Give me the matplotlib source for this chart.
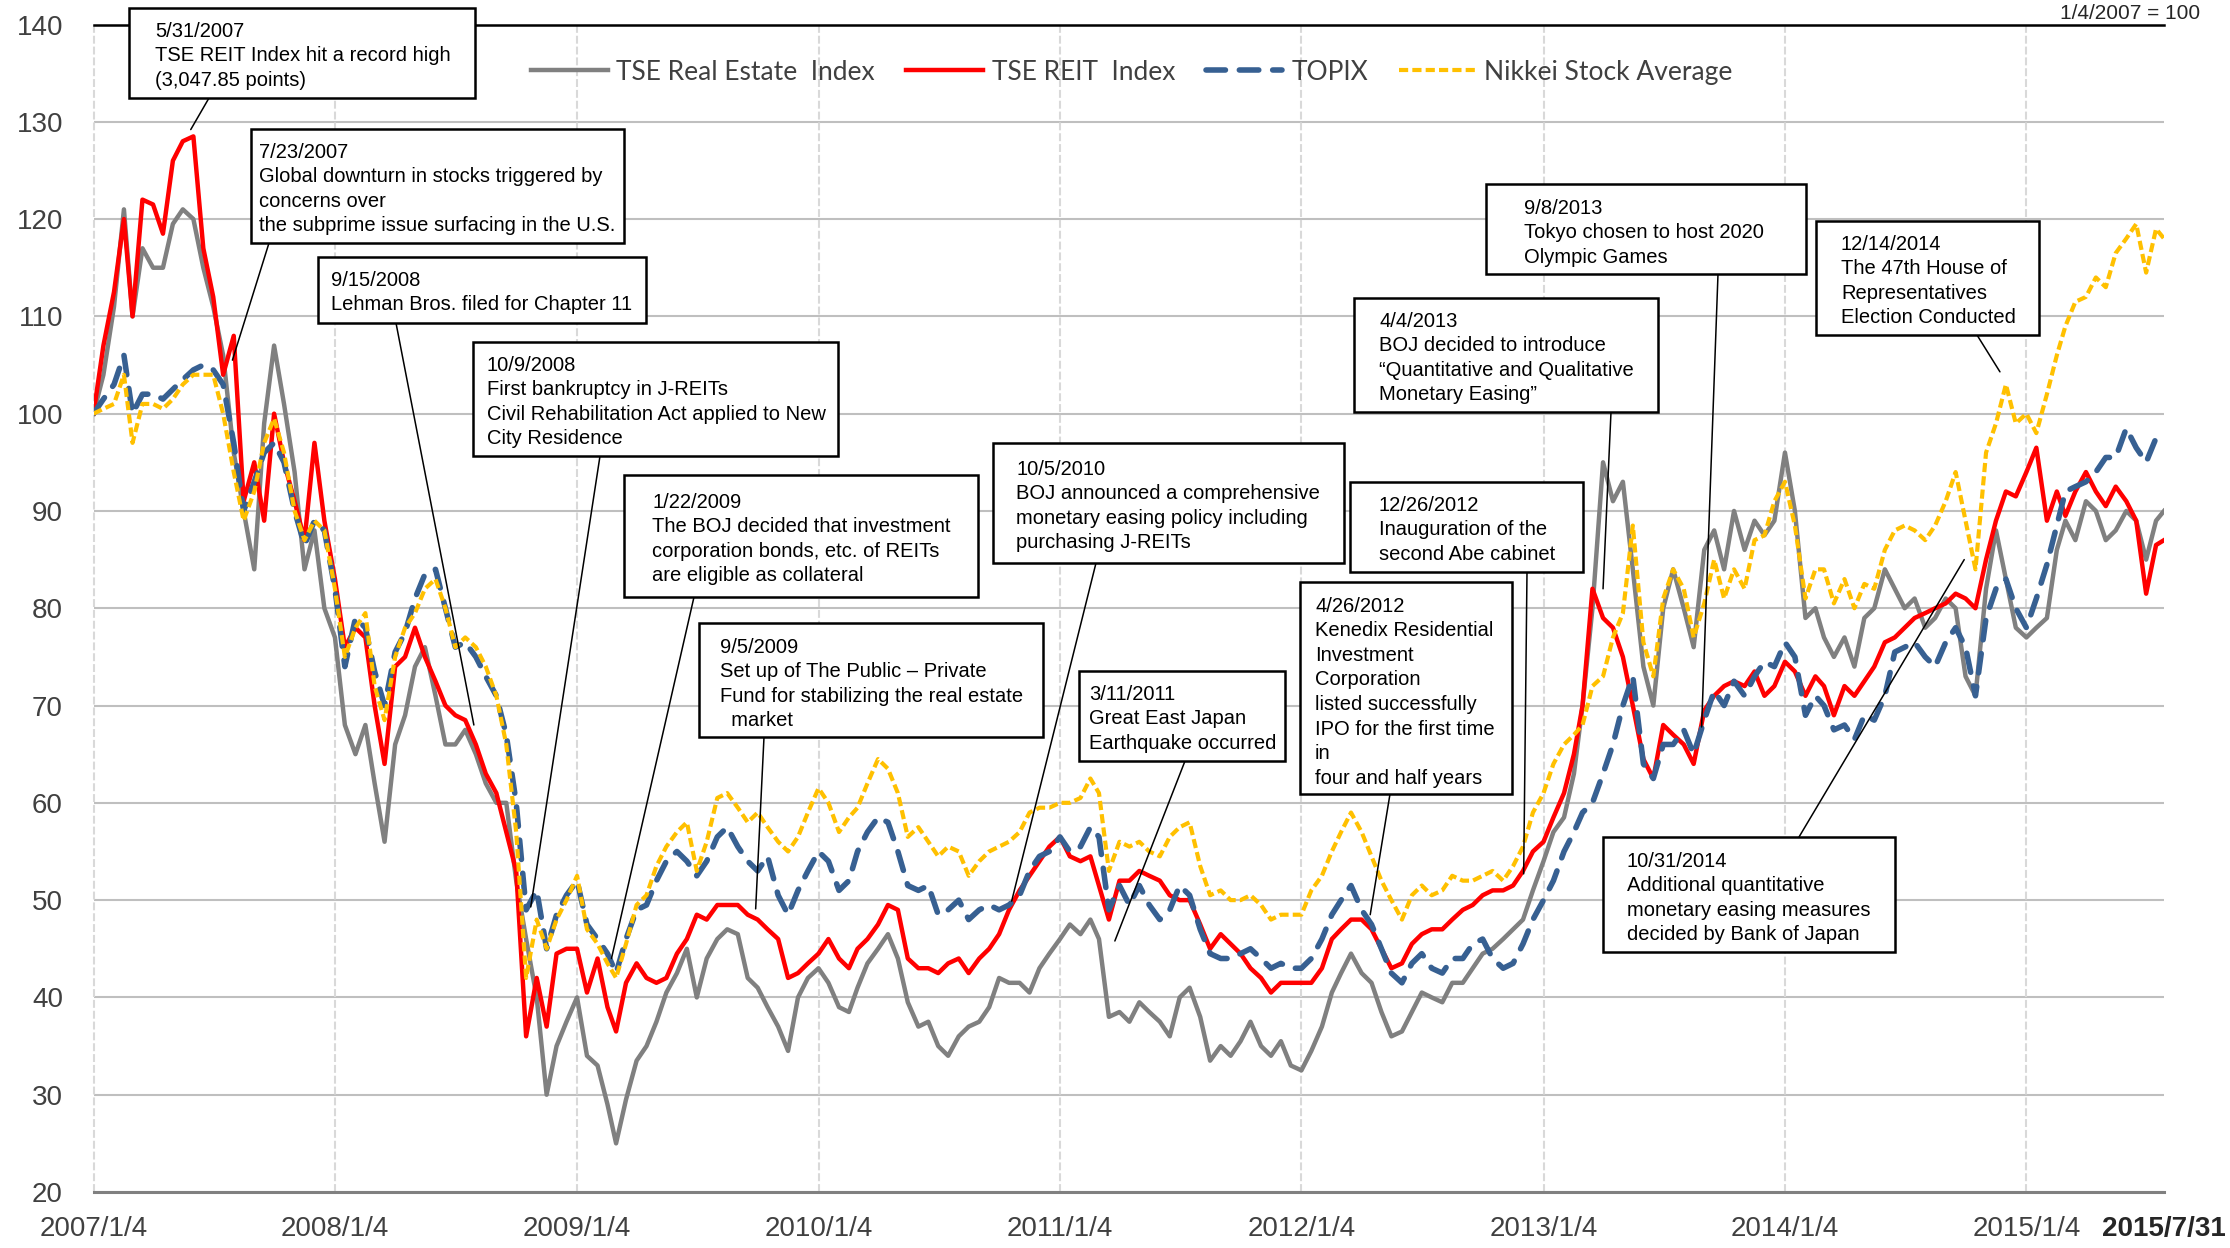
import matplotlib
matplotlib.use("Agg")
import matplotlib.pyplot as plt
import matplotlib.dates as mdates
from matplotlib.patches import Rectangle
import pandas as pd

W, H = 2230, 1248

# sampling dates: the 4th and 19th of every month, then the last day shown
month_starts = pd.date_range("2007-01-01", "2015-07-01", freq="MS")
dates = []
for ms in month_starts:
    dates.append(ms + pd.Timedelta(days=3))
    dates.append(ms + pd.Timedelta(days=18))
dates.append(pd.Timestamp("2015-07-31"))

# index values (1/4/2007 = 100), one row per year
real_estate = [
    100, 104, 111, 121, 110, 117, 115, 115, 119.5, 121, 120, 115, 111, 106, 96, 90, 84, 99, 107, 101, 94, 84, 88, 80,
    77, 68, 65, 68, 62, 56, 66, 69, 74, 76, 71, 66, 66, 67.5, 65, 62, 60, 60, 52, 46, 40, 30, 35, 37.5,
    40, 34, 33, 29, 25, 29.5, 33.5, 35, 37.5, 40.5, 42.5, 45, 40, 44, 46, 47, 46.5, 42, 41, 39, 37, 34.5, 40, 42,
    43, 41.5, 39, 38.5, 41, 43.5, 45, 46.5, 44, 39.5, 37, 37.5, 35, 34, 36, 37, 37.5, 39, 42, 41.5, 41.5, 40.5, 43, 44.5,
    46, 47.5, 46.5, 48, 46, 38, 38.5, 37.5, 39.5, 38.5, 37.5, 36, 40, 41, 38, 33.5, 35, 34, 35.5, 37.5, 35, 34, 35.5, 33,
    32.5, 34.5, 37, 40.5, 42.5, 44.5, 42.5, 41.5, 38.5, 36, 36.5, 38.5, 40.5, 40, 39.5, 41.5, 41.5, 43, 44.5, 45, 46, 47, 48, 51,
    54, 57, 58.5, 63, 70, 80, 95, 91, 93, 84, 74, 70, 80, 84, 80, 76, 86, 88, 84, 90, 86, 89, 87.5, 89,
    96, 90, 79, 80, 77, 75, 77, 74, 79, 80, 84, 82, 80, 81, 78, 79, 81, 80, 73, 71, 82, 88, 83, 78,
    77, 78, 79, 86, 89, 87, 91, 90, 87, 88, 90, 89, 85, 89, 90,
]
reit = [
    100, 107, 112.5, 120, 110, 122, 121.5, 118.5, 126, 128, 128.5, 117, 112, 104, 108, 91, 95, 89, 100, 95, 91, 87, 97, 89,
    83, 76, 78, 77, 70, 64, 74, 75, 78, 75, 72.5, 70, 69, 68.5, 66, 63, 61, 57, 53, 36, 42, 37, 44.5, 45,
    45, 40.5, 44, 39, 36.5, 41.5, 43.5, 42, 41.5, 42, 44.5, 46, 48.5, 48, 49.5, 49.5, 49.5, 48.5, 48, 47, 46, 42, 42.5, 43.5,
    44.5, 46, 44, 43, 45, 46, 47.5, 49.5, 49, 44, 43, 43, 42.5, 43.5, 44, 42.5, 44, 45, 46.5, 49, 51, 52.5, 54, 55.5,
    56.5, 54.5, 54, 54.5, 51.5, 48, 52, 52, 53, 52.5, 52, 50.5, 50, 50, 47.5, 45, 46.5, 45.5, 44.5, 43, 42, 40.5, 41.5, 41.5,
    41.5, 41.5, 43, 46, 47, 48, 48, 47, 45, 43, 43.5, 45.5, 46.5, 47, 47, 48, 49, 49.5, 50.5, 51, 51, 51.5, 53, 55,
    56, 58.5, 61, 65, 70, 82, 79, 78, 75, 70, 64.5, 62.5, 68, 67, 66, 64, 69.5, 71, 72, 72.5, 72, 73.5, 71, 72,
    74.5, 73.5, 71, 73, 72, 69, 72, 71, 72.5, 74, 76.5, 77, 78, 79, 79.5, 80, 80.5, 81.5, 81, 80, 85, 89, 92, 91.5,
    94, 96.5, 89, 92, 89.5, 92, 94, 92, 90.5, 92.5, 91, 89, 81.5, 86.5, 87,
]
topix = [
    100, 101.5, 103, 106, 100, 102, 102, 101.5, 102.5, 103.5, 104.5, 105, 104.5, 103, 97, 90, 93, 96, 97, 95, 90, 86.5, 89, 88,
    82, 74, 79, 78, 73.5, 70, 75.5, 77.5, 81, 83.5, 84, 80, 76, 76.5, 75, 73, 71, 67, 60, 49, 51, 45, 48.5, 50.5,
    52, 47.5, 46, 44.5, 42.5, 46, 49, 49.5, 52, 54, 55, 54, 52.5, 54, 56.5, 57.5, 55.5, 54, 53, 54.5, 50.5, 48.5, 51, 53,
    55, 54, 51, 52, 55, 57, 58.5, 58, 55, 51.5, 51, 51.5, 48.5, 49, 50, 48, 49, 49.5, 49, 49.5, 50.5, 53, 54.5, 55,
    56.5, 55, 55.5, 57.5, 56.5, 49, 51.5, 49.5, 51.5, 49.5, 48, 49, 51.5, 50.5, 47, 44.5, 44, 44, 44.5, 45, 44, 43, 43.5, 43,
    43, 44, 46, 48.5, 50, 51.5, 49, 47.5, 45, 42.5, 41.5, 43.5, 44.5, 43, 42.5, 44, 44, 45.5, 46, 44, 43, 43.5, 45.5, 48,
    50, 52, 55, 57, 59, 60, 63, 66, 70, 73, 64, 62.5, 66, 66, 67.5, 65, 68.5, 71.5, 70, 72.5, 71, 73, 74.5, 74,
    76.5, 75, 69, 71, 70, 67.5, 68, 66.5, 69, 68.5, 71, 75.5, 76, 76.5, 75, 74, 76.5, 78, 76, 71, 79, 82, 83, 80,
    78, 81, 84.5, 88.5, 92, 92.5, 93, 94, 95.5, 95.5, 98.5, 96.5, 95, 97.5, 97.5,
]
nikkei = [
    100, 100.5, 101, 104, 97, 101, 101, 100.5, 101.5, 103, 104, 104, 104, 100, 94, 89, 92, 97, 99.5, 96, 90, 87, 89, 88,
    82, 75, 78, 79.5, 72, 68.5, 75, 78, 79.5, 82, 83, 80, 76, 77, 76, 74, 71, 66, 57, 42, 48, 45, 48, 50,
    52.5, 47, 45.5, 43.5, 42, 45.5, 49.5, 50.5, 53.5, 55.5, 57, 58, 53, 56, 60.5, 61, 59.5, 58, 59, 57.5, 56, 55, 56.5, 59,
    61.5, 60, 57, 58.5, 59.5, 62, 64.5, 63.5, 61, 56.5, 57.5, 56, 54.5, 55.5, 55, 52.5, 54, 55, 55.5, 56, 57, 59, 59.5, 59.5,
    60, 60, 60.5, 62.5, 61, 53, 56, 55.5, 56, 55, 54.5, 56.5, 57.5, 58, 53.5, 50.5, 51, 50, 50, 50.5, 49.5, 48, 48.5, 48.5,
    48.5, 51, 52.5, 55, 57, 59, 57, 54.5, 52, 50, 48, 50.5, 51.5, 50.5, 51, 52.5, 52, 52, 52.5, 53, 52, 53.5, 55.5, 59,
    61, 64, 66, 67, 68, 72, 73, 77, 79.5, 88.5, 76.5, 73, 81, 84, 82, 77, 80.5, 85, 81, 84, 82, 87, 87.5, 91,
    93, 88.5, 81, 84, 84, 80.5, 83, 80, 82.5, 82, 86, 88, 88.5, 88, 87, 88.5, 91, 94, 89, 84, 96, 99, 103, 99,
    100, 98, 102, 106, 109, 111.5, 112, 114, 113, 116.5, 118, 119.5, 114.5, 119, 118,
]

series_labels = ["TSE Real Estate  Index", "TSE REIT  Index", "TOPIX", "Nikkei Stock Average"]

tick_dates = ["2007-01-04", "2008-01-04", "2009-01-04", "2010-01-04", "2011-01-04",
              "2012-01-04", "2013-01-04", "2014-01-04", "2015-01-04", "2015-07-31"]
tick_labels = ["2007/1/4", "2008/1/4", "2009/1/4", "2010/1/4", "2011/1/4",
               "2012/1/4", "2013/1/4", "2014/1/4", "2015/1/4", "2015/7/31"]
y_ticks = [20, 30, 40, 50, 60, 70, 80, 90, 100, 110, 120, 130, 140]
base_note = "1/4/2007 = 100"

# (date pointed at, index value pointed at, note)
events = [
    ("2007-05-31", 129.2, "5/31/2007\nTSE REIT Index hit a record high\n(3,047.85 points)"),
    ("2007-08-02", 105.5, "7/23/2007\nGlobal downturn in stocks triggered by\nconcerns over\nthe subprime issue surfacing in the U.S."),
    ("2008-08-01", 68.0, "9/15/2008\nLehman Bros. filed for Chapter 11"),
    ("2008-10-26", 49.3, "10/9/2008\nFirst bankruptcy in J-REITs\nCivil Rehabilitation Act applied to New\nCity Residence"),
    ("2009-02-25", 44.0, "1/22/2009\nThe BOJ decided that investment\ncorporation bonds, etc. of REITs\nare eligible as collateral"),
    ("2009-10-01", 49.1, "9/5/2009\nSet up of The Public \u2013 Private\nFund for stabilizing the real estate\n  market"),
    ("2010-10-23", 49.9, "10/5/2010\nBOJ announced a comprehensive\nmonetary easing policy including\npurchasing J-REITs"),
    ("2011-03-28", 45.8, "3/11/2011\nGreat East Japan\nEarthquake occurred"),
    ("2012-12-05", 52.7, "12/26/2012\nInauguration of the\nsecond Abe cabinet"),
    ("2012-04-17", 48.5, "4/26/2012\nKenedix Residential\nInvestment\nCorporation\nlisted successfully\nIPO for the first time\nin\nfour and half years"),
    ("2013-04-04", 82.0, "4/4/2013\nBOJ decided to introduce\n\u201cQuantitative and Qualitative\nMonetary Easing\u201d"),
    ("2013-08-31", 67.8, "9/8/2013\nTokyo chosen to host 2020\nOlympic Games"),
    ("2014-11-25", 104.3, "12/14/2014\nThe 47th House of\nRepresentatives\nElection Conducted"),
    ("2014-10-02", 85.0, "10/31/2014\nAdditional quantitative\nmonetary easing measures\ndecided by Bank of Japan"),
]

# note box layout in pixels: left, top, right, bottom, text x, first line y, leader start x, y
box_layout = [
    (129, 8, 475, 98, 155, 29, 209, 98),
    (251, 129, 624, 243, 259, 150, 269, 243),
    (318, 257, 646, 323, 331, 278, 396, 323),
    (473, 342, 838, 456, 487, 363, 600, 456),
    (624, 475, 978, 597, 652, 500, 694, 597),
    (699, 623, 1043, 737, 720, 645, 764, 737),
    (993, 443, 1344, 563, 1016, 467, 1096, 563),
    (1079, 671, 1285, 761, 1089, 692, 1185, 761),
    (1350, 482, 1583, 572, 1379, 503, 1527, 572),
    (1300, 582, 1512, 794, 1315, 604, 1390, 794),
    (1354, 298, 1658, 412, 1379, 319, 1611, 412),
    (1486, 184, 1806, 274, 1524, 206, 1718, 274),
    (1816, 221, 2039, 335, 1841, 242, 1977, 335),
    (1603, 837, 1895, 952, 1627, 859, 1799, 837),
]


def fx(px):
    return px / W


def fy(py):
    return 1 - py / H


plt.rcParams["font.family"] = ["Liberation Sans", "DejaVu Sans"]

fig = plt.figure(figsize=(W / 100, H / 100), dpi=100)
ax = fig.add_axes([fx(93.5), fy(1192), (2164 - 93.5) / W, (1192 - 24.5) / H])

ax.plot(dates, real_estate, color="#808080", lw=3.2, zorder=3, label=series_labels[0])
ax.plot(dates, reit, color="#FF0000", lw=3.2, zorder=4, label=series_labels[1])
ax.plot(dates, topix, color="#376092", lw=4.0, dashes=(3.5, 2.5), dash_capstyle="round",
        zorder=5, label=series_labels[2])
ax.plot(dates, nikkei, color="#FFC000", lw=3.0, dashes=(2.2, 1.0), zorder=6, label=series_labels[3])

ax.set_xlim(mdates.date2num(pd.Timestamp(tick_dates[0])), mdates.date2num(pd.Timestamp(tick_dates[-1])))
ax.set_ylim(y_ticks[0], y_ticks[-1])

# grid: solid horizontals, dashed verticals at each year
ax.set_yticks(y_ticks)
ax.yaxis.grid(True, color="#BFBFBF", lw=1.5)
ax.set_axisbelow(True)
for d in tick_dates[:-1]:
    ax.axvline(pd.Timestamp(d), color="#D9D9D9", lw=1.5, linestyle=(0, (3.8, 1.4)), zorder=1, clip_on=False)

for side in ["left", "right"]:
    ax.spines[side].set_visible(False)
ax.spines["top"].set_color("black")
ax.spines["top"].set_linewidth(1.8)
ax.spines["bottom"].set_color("#808080")
ax.spines["bottom"].set_linewidth(2.2)

ax.set_xticks([pd.Timestamp(d) for d in tick_dates])
ax.set_xticklabels(tick_labels)
ax.tick_params(axis="both", length=0, labelsize=20, labelcolor="#404040")
ax.tick_params(axis="x", pad=17)
ax.tick_params(axis="y", pad=22)
ax.get_xticklabels()[-1].set_fontweight("bold")
ax.get_xticklabels()[-1].set_color("#262626")

leg = ax.legend(loc="center left", bbox_to_anchor=((531 - 93.5) / 2070.5, 1 - (72 - 24.5) / 1167.5),
                ncol=4, frameon=False, borderpad=0, borderaxespad=0,
                handlelength=2.9, handletextpad=0.34, columnspacing=1.17,
                prop={"family": ["Lato", "DejaVu Sans"], "size": 19})
for t in leg.get_texts():
    t.set_color("#404040")

# event notes
for (d, v, note), (l, t, r, b, tx, ty, sx, sy) in zip(events, box_layout):
    fig.add_artist(Rectangle((fx(l), fy(b)), (r - l) / W, (b - t) / H, transform=fig.transFigure,
                             facecolor="white", edgecolor="black", lw=1.8, zorder=10))
    fig.text(fx(tx), fy(ty - 7.2), note, ha="left", va="top", fontsize=14.5,
             linespacing=1.37, color="black", zorder=11)
    ax.annotate("", xy=(mdates.date2num(pd.Timestamp(d)), v), xycoords="data",
                xytext=(fx(sx), fy(sy)), textcoords="figure fraction",
                arrowprops=dict(arrowstyle="-", color="black", lw=1.1, shrinkA=0, shrinkB=0),
                annotation_clip=False, zorder=9)

# base note above the top right corner of the plot
fig.text(fx(2200), fy(19), base_note, fontsize=15, ha="right", va="baseline", color="#262626")

fig.savefig("out.png", dpi=100)
